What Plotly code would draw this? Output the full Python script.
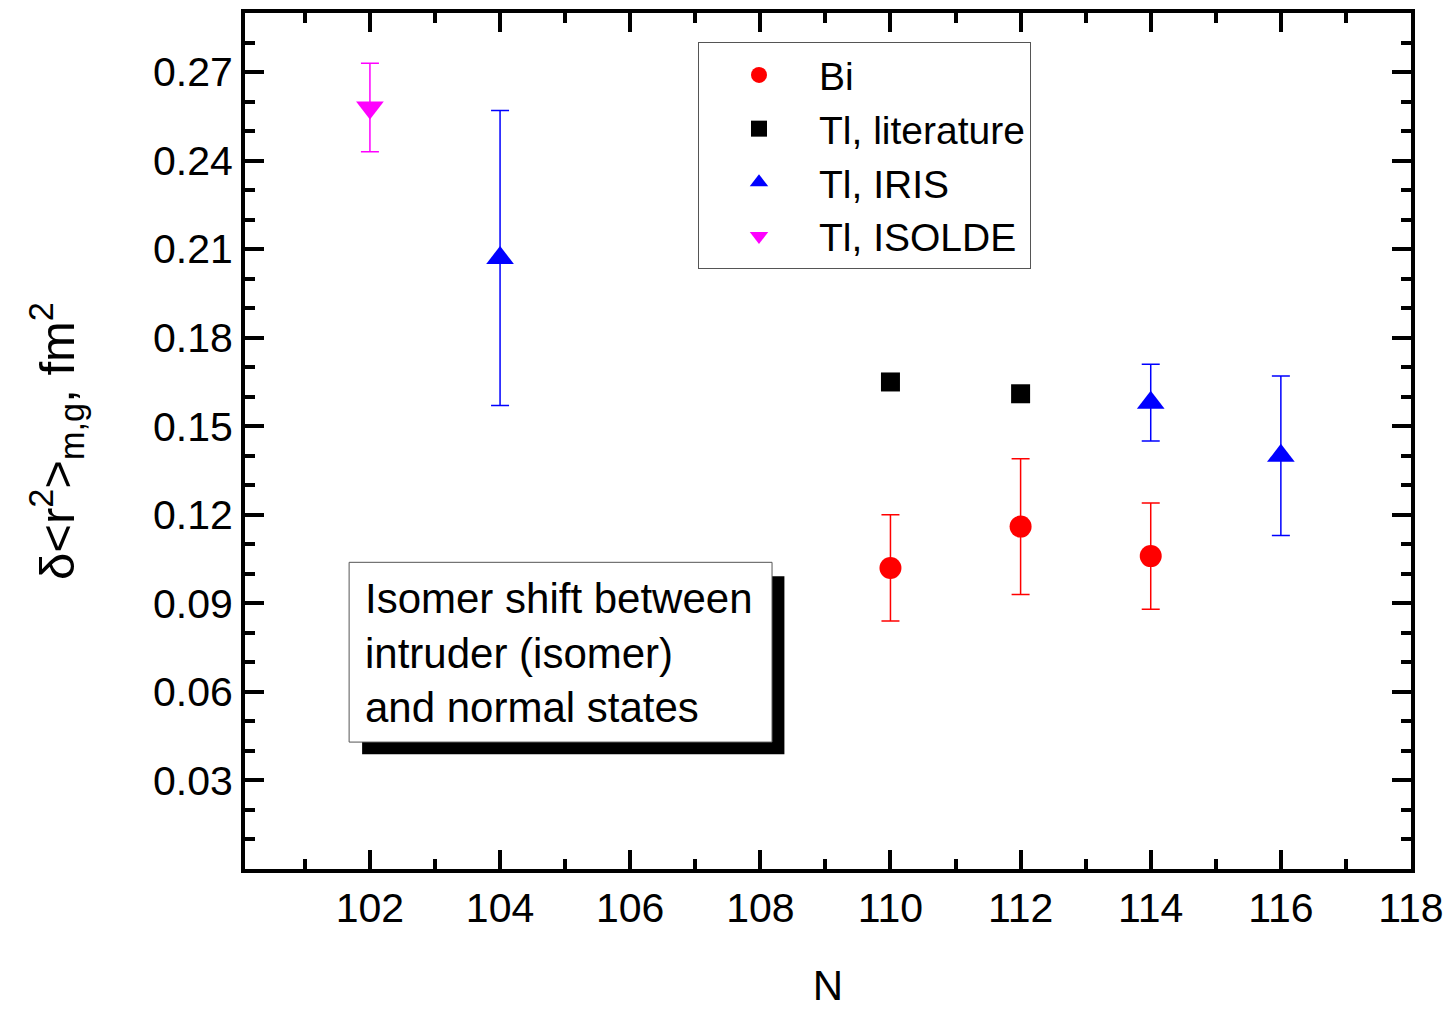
import plotly.graph_objects as go

# ---- data ----
bi_N = [110, 112, 114]
bi_val = [0.102, 0.116, 0.106]
bi_err = [0.018, 0.023, 0.018]

lit_N = [110, 112]
lit_val = [0.165, 0.161]

iris_N = [104, 114, 116]
iris_val = [0.207, 0.158, 0.140]
iris_err = [0.050, 0.013, 0.027]

isolde_N = [102]
isolde_val = [0.258]
isolde_err = [0.015]

x_ticks = [102, 104, 106, 108, 110, 112, 114, 116, 118]
y_ticks = [0.03, 0.06, 0.09, 0.12, 0.15, 0.18, 0.21, 0.24, 0.27]
y_ticklabels = ["0.03", "0.06", "0.09", "0.12", "0.15", "0.18", "0.21", "0.24", "0.27"]

FONT = "Liberation Sans, Arial, sans-serif"

fig = go.Figure()

def add(name, xs, ys, errs, color, symbol, size):
    err = None
    if errs is not None:
        err = dict(type="data", array=errs, visible=True, color=color,
                   thickness=1.5, width=9)
    fig.add_trace(go.Scatter(
        x=xs, y=ys, mode="markers", name=name,
        marker=dict(color=color, symbol=symbol, size=size, line=dict(width=0)),
        error_y=err,
    ))

add("Bi", bi_N, bi_val, bi_err, "#ff0000", "circle", 22)
add("Tl, literature", lit_N, lit_val, None, "#000000", "square", 19)
add("Tl, IRIS", iris_N, iris_val, iris_err, "#0000ff", "triangle-up", 24)
add("Tl, ISOLDE", isolde_N, isolde_val, isolde_err, "#ff00ff", "triangle-down", 24)

# annotation box with drop shadow
fig.add_shape(type="rect", xref="x", yref="y", x0=101.88, x1=108.37, y0=0.0389, y1=0.0992,
              fillcolor="black", line=dict(width=0), layer="above")
fig.add_shape(type="rect", xref="x", yref="y", x0=101.68, x1=108.18, y0=0.043, y1=0.1039,
              fillcolor="white", line=dict(color="#555555", width=1), layer="above")
fig.add_annotation(x=101.9, y=0.0731, xref="x", yref="y", xanchor="left", yanchor="middle",
                   text="Isomer shift between<br>intruder (isomer)<br>and normal states",
                   showarrow=False, align="left", font=dict(size=42, color="black", family=FONT))

axis_common = dict(
    showline=True, linecolor="black", linewidth=4, mirror="allticks",
    ticks="inside", tickcolor="black", tickwidth=4, ticklen=19,
    showgrid=False, zeroline=False, automargin=False,
    tickfont=dict(size=41, color="black", family=FONT),
)

fig.update_xaxes(
    range=[100.08, 118], tickmode="array", tickvals=x_ticks,
    minor=dict(tickmode="linear", tick0=0, dtick=1, ticks="inside", ticklen=10,
               tickwidth=4, tickcolor="black", showgrid=False),
    title=dict(text="N", font=dict(size=42, color="black", family=FONT), standoff=44),
    **axis_common,
)
fig.update_yaxes(
    range=[0, 0.29], tickmode="array", tickvals=y_ticks, ticktext=y_ticklabels,
    minor=dict(tickmode="linear", tick0=0, dtick=0.01, ticks="inside", ticklen=10,
               tickwidth=4, tickcolor="black", showgrid=False),
    title=dict(text="δ&lt;r<sup>2</sup>&gt;<sub>m,g</sub>, fm<sup>2</sup>",
               font=dict(size=49, color="black", family=FONT), standoff=64),
    **axis_common,
)

fig.update_layout(
    width=1453, height=1009,
    margin=dict(l=245, r=42, t=13, b=140),
    paper_bgcolor="white", plot_bgcolor="white",
    font=dict(family=FONT, color="black"),
    legend=dict(x=0.3885, y=0.966, xanchor="left", yanchor="top",
                bgcolor="white", bordercolor="#555555", borderwidth=1,
                font=dict(size=39, color="black", family=FONT),
                itemwidth=110, tracegroupgap=0),
)

fig.write_html("out.html")
